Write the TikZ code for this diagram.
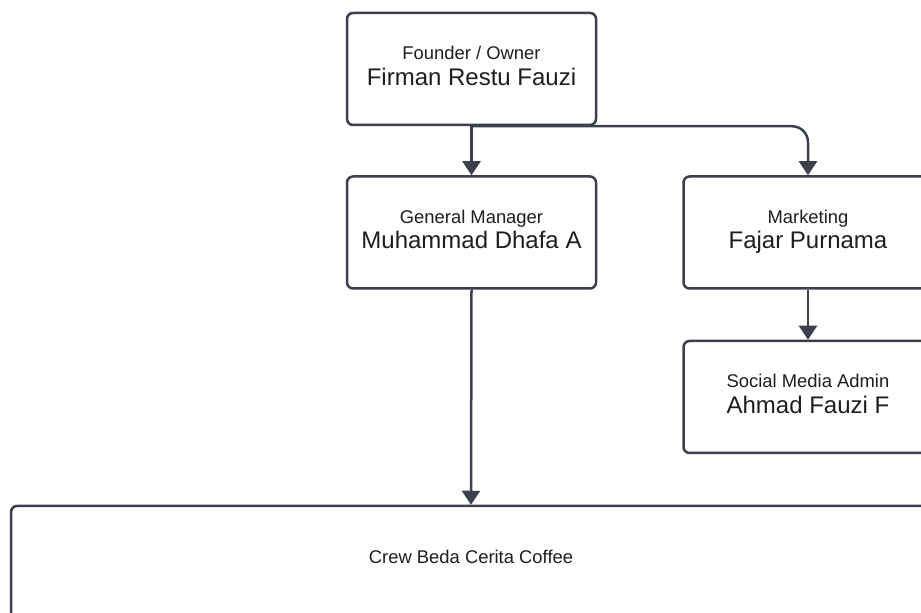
\documentclass[tikz,border=0pt]{standalone}
\usepackage{fontspec}
\setsansfont{Liberation Sans}
\usepackage{tikz}
\usetikzlibrary{arrows.meta,positioning}
\usepackage{xcolor}
\definecolor{LineDark}{HTML}{3B404C}
\definecolor{TextDark}{HTML}{1E1E1E}
\newcommand{\rolefont}{\fontsize{9.2}{11}\selectfont}
\newcommand{\namefont}{\fontsize{12}{12.8}\selectfont}
\tikzset{
  orgbox/.style={draw=LineDark,line width=1.25pt,fill=white,rounded corners=3pt,minimum width=124.5pt,minimum height=56pt,align=center,text=TextDark,font=\sffamily\namefont,inner sep=0pt,text depth=3pt},
  crewbox/.style={draw=LineDark,line width=1.25pt,fill=white,rounded corners=3pt,minimum width=460pt,minimum height=56pt,text=TextDark,font=\sffamily\rolefont,text depth=5pt,inner sep=0pt},
  orgarrow/.style={-{Triangle[length=7pt,width=9pt]},line width=1.25pt,draw=LineDark,rounded corners=8pt}
}
\begin{document}
\begin{tikzpicture}[x=0.5pt,y=-0.5pt]
\useasboundingbox (0,0) rectangle (921,613);
\clip (0,0) rectangle (921,613);
% boxes
\node[orgbox] (owner) at (471.5,69) {{\rolefont Founder / Owner}\\Firman Restu Fauzi};
\node[orgbox] (gm) at (471.5,232.5) {{\rolefont General Manager}\\Muhammad Dhafa A};
\node[orgbox] (mkt) at (808,232.5) {{\rolefont Marketing}\\Fajar Purnama};
\node[orgbox] (sosmed) at (808,397) {{\rolefont Social Media Admin}\\Ahmad Fauzi F};
\node[crewbox] (crew) at (471,562) {Crew Beda Cerita Coffee};
% connectors
\draw[orgarrow] (owner.south) -- (gm.north);
\draw[orgarrow] (owner.south) -| (mkt.north);
\draw[orgarrow] (mkt.south) -- (sosmed.north);
\draw[orgarrow] (gm.south) -- (crew.north);
\end{tikzpicture}
\end{document}
